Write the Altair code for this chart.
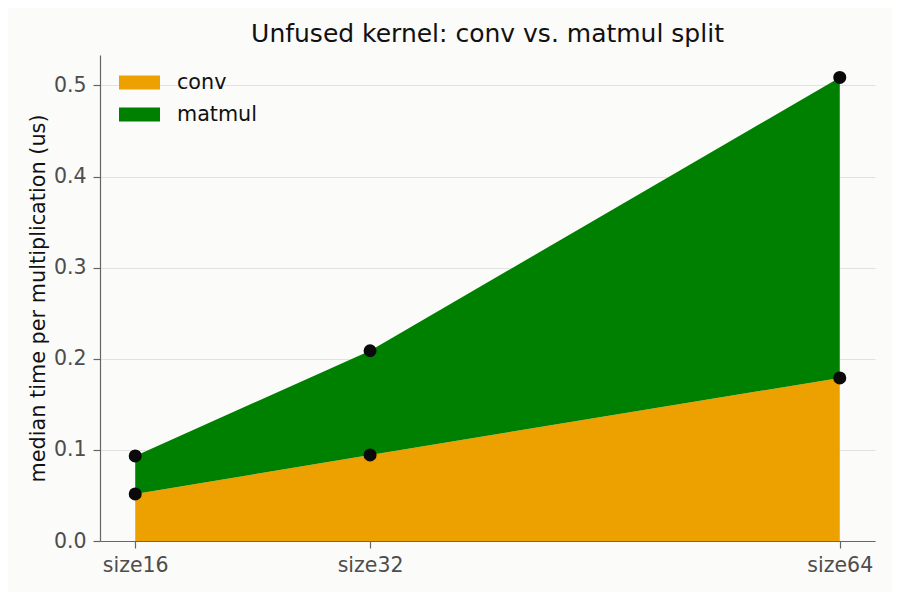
import altair as alt
import pandas as pd

sizes = [16, 32, 64]
conv = [0.0516, 0.0945, 0.179]
matmul = [0.0418, 0.1143, 0.3298]
series = ["conv", "matmul"]
colors = ["#eca100", "#008000"]
tick_y = [0, 0.1, 0.2, 0.3, 0.4, 0.5]

rows = []
for i, s in enumerate(sizes):
    rows.append({"size": s, "kernel": "conv", "time": conv[i], "ord": 0})
    rows.append({"size": s, "kernel": "matmul", "time": matmul[i], "ord": 1})
df = pd.DataFrame(rows)

xenc = alt.X("size:Q", scale=alt.Scale(domain=[13.6, 66.4], nice=False, zero=False),
             axis=alt.Axis(values=sizes, labelExpr="'size' + datum.value", title=None,
                           grid=False, labelPadding=7))
yenc = alt.Y("time:Q", stack="zero", scale=alt.Scale(domain=[0, 0.5334], nice=False),
             axis=alt.Axis(values=tick_y, format=".1f",
                           title="median time per multiplication (us)",
                           titlePadding=5, labelPadding=7, grid=True))

area = alt.Chart(df).mark_area(opacity=1).encode(
    x=xenc, y=yenc,
    color=alt.Color("kernel:N", scale=alt.Scale(domain=series, range=colors),
                    legend=alt.Legend(title=None, orient="none", legendX=19, legendY=7,
                                      symbolType="M-1,-0.34H1V0.34H-1Z", symbolSize=1681,
                                      symbolStrokeWidth=0, labelFontSize=20.7,
                                      labelFont="DejaVu Sans", labelColor="#111111",
                                      labelOffset=17, rowPadding=1, symbolOpacity=1)),
    order=alt.Order("ord:Q"),
)

pts = alt.Chart(df).mark_circle(size=170, color="#0a0a0a", opacity=1).encode(
    x=alt.X("size:Q"), y=alt.Y("time:Q", stack="zero"),
    order=alt.Order("ord:Q"), detail="kernel:N",
)

chart = alt.layer(area, pts).properties(
    width=775, height=486,
    title=alt.TitleParams("Unfused kernel: conv vs. matmul split", fontSize=25,
                          fontWeight="normal", font="DejaVu Sans", color="#111111",
                          offset=8),
    background="#fbfbfa",
    padding={"left": 92, "top": 47, "right": 17, "bottom": 51},
    autosize=alt.AutoSizeParams(type="none"),
).configure_view(stroke=None).configure_axis(
    labelFontSize=20.5, labelColor="#4d4d4d", labelFont="DejaVu Sans",
    titleFontSize=20.8, titleFontWeight="normal", titleColor="#111111",
    titleFont="DejaVu Sans", domainColor="#666666", tickColor="#666666",
    tickSize=7, gridColor="#e2e2e2", gridWidth=1, domainWidth=1.2, tickWidth=1.2,
)

chart.save("out.html", embed_options={"renderer": "svg", "actions": False})
